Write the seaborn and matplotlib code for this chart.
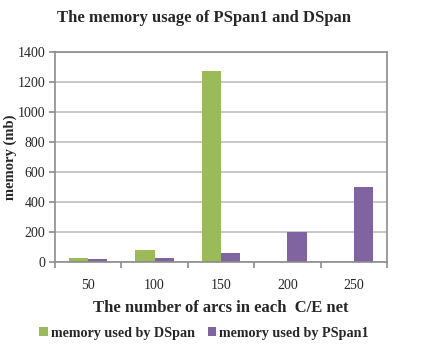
import matplotlib
matplotlib.use("Agg")
import matplotlib.pyplot as plt
import seaborn as sns
import pandas as pd
import numpy as np

categories = ["50", "100", "150", "200", "250"]
dspan = [27, 80, 1270, 0, 0]
pspan1 = [20, 25, 60, 200, 500]
series_names = ["memory used by DSpan", "memory used by PSpan1"]
colors = ["#9BBB59", "#8064A2"]

df = pd.DataFrame({
    "arcs": categories * 2,
    "memory": dspan + pspan1,
    "series": [series_names[0]] * len(categories) + [series_names[1]] * len(categories),
})

sns.set_theme(style="white")
plt.rcParams["font.family"] = ["Liberation Serif", "DejaVu Serif"]

fig = plt.figure(figsize=(4.25, 3.51), dpi=100)
ax = fig.add_axes([0.129, 0.254, 0.782, 0.598])

sns.barplot(data=df, x="arcs", y="memory", hue="series", order=categories,
            hue_order=series_names, palette=colors, width=0.58, ax=ax,
            saturation=1, legend=True, linewidth=0, edgecolor="none")

ax.set_ylim(0, 1400)
ax.set_yticks(np.arange(0, 1401, 200))
ax.set_xlim(-0.5, len(categories) - 0.5)
ax.yaxis.grid(True, color="#BEBEBE", linewidth=1.2)
ax.set_axisbelow(True)
for s in ax.spines.values():
    s.set_color("#8C8C8C")
    s.set_linewidth(1.2)

ax.tick_params(axis="x", which="major", length=0, labelsize=10, pad=12)
ax.set_xticks(np.arange(-0.5, len(categories), 1), minor=True)
ax.tick_params(axis="x", which="minor", length=4, color="#8C8C8C", width=1.2, direction="out", bottom=True)
ax.tick_params(axis="y", which="major", length=4, color="#8C8C8C", width=1.2, direction="out", left=True, labelsize=10, pad=3)

ax.set_xlabel("The number of arcs in each  C/E net", fontsize=12, fontweight="bold", labelpad=6)
ax.set_ylabel("memory (mb)", fontsize=10.5, fontweight="bold", labelpad=0)
fig.text(0.48, 0.948, "The memory usage of PSpan1 and DSpan", ha="center", va="center",
         fontsize=12, fontweight="bold")

ax.legend(loc="center", bbox_to_anchor=(0.48, 0.05), bbox_transform=fig.transFigure,
          ncol=2, frameon=False, prop={"weight": "bold", "size": 10.2},
          handlelength=0.6, handleheight=0.6, handletextpad=0.2, columnspacing=0.9)

fig.savefig("out.png", dpi=100)
